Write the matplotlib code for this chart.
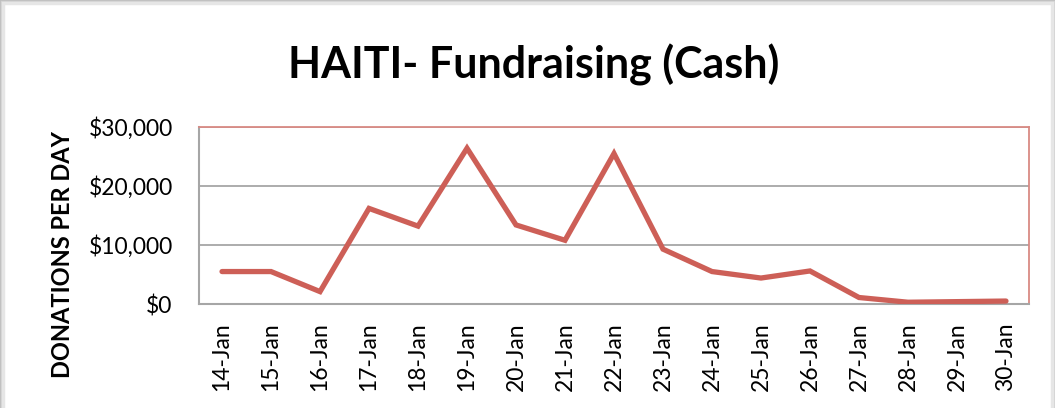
import matplotlib.pyplot as plt
from matplotlib.patches import Rectangle
from matplotlib.ticker import FuncFormatter

# daily cash donations
days = ["14-Jan", "15-Jan", "16-Jan", "17-Jan", "18-Jan", "19-Jan", "20-Jan",
        "21-Jan", "22-Jan", "23-Jan", "24-Jan", "25-Jan", "26-Jan", "27-Jan",
        "28-Jan", "29-Jan", "30-Jan"]
donations = [5500, 5500, 2100, 16200, 13200, 26400, 13400, 10800, 25500,
             9300, 5500, 4400, 5600, 1100, 300, 400, 500]
yticks = [0, 10000, 20000, 30000]

plt.rcParams['font.family'] = ['Lato', 'DejaVu Sans']

fig = plt.figure(figsize=(10.55, 4.08), dpi=100)
ax = fig.add_axes([199 / 1055, 1 - 304 / 408, 830 / 1055, 177 / 408])

# outer chart frame with soft shadow
for i, c in enumerate(["#a8a8a8", "#bdbdbd", "#d2d2d2", "#e6e6e6"]):
    fig.patches.append(Rectangle((i / 1055, -0.1), 1 - 2 * i / 1055, 1.1 - i / 408,
                                 transform=fig.transFigure, fill=False,
                                 edgecolor=c, linewidth=2.5))

ax.plot(range(len(days)), donations, color="#CD5F57", linewidth=3.8,
        solid_capstyle="round", solid_joinstyle="miter", zorder=3)

ax.set_xlim(-0.47, len(days) - 0.53)
ax.set_ylim(0, 30000)
ax.set_yticks(yticks)
ax.yaxis.set_major_formatter(FuncFormatter(lambda v, p: "${:,.0f}".format(v)))
ax.set_xticks(range(len(days)))
ax.set_xticklabels(days, rotation=90)
ax.tick_params(axis="both", length=0, labelsize=16.5, colors="black")
ax.tick_params(axis="y", pad=19)
ax.tick_params(axis="x", pad=13)

ax.grid(axis="y", color="#a6a6a6", linewidth=1.3)
ax.set_axisbelow(True)
for s in ["left", "bottom"]:
    ax.spines[s].set_color("#a6a6a6")
    ax.spines[s].set_linewidth(1.5)
for s in ["top", "right"]:
    ax.spines[s].set_color("#d98a84")
    ax.spines[s].set_linewidth(1.3)

fig.text(0.506, 1 - 65 / 408, "HAITI- Fundraising (Cash)", ha="center",
         va="center", fontsize=31, fontweight="bold")
fig.text(63 / 1055, 1 - 254 / 408, "DONATIONS PER DAY", rotation=90,
         ha="center", va="center", fontsize=17, fontweight="bold")

fig.savefig("out.png", dpi=100)
